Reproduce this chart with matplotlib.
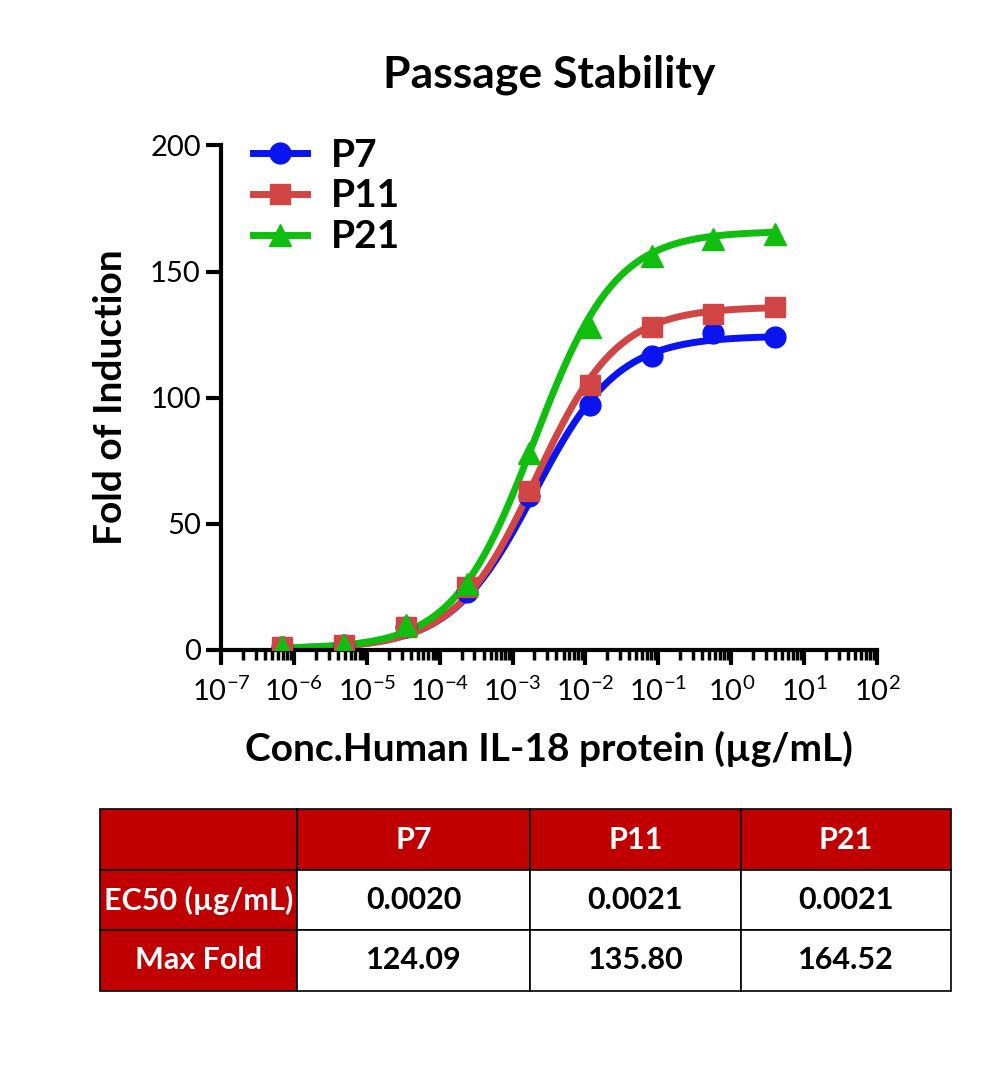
import numpy as np
import matplotlib
matplotlib.use('Agg')
import matplotlib.pyplot as plt
from matplotlib.ticker import LogLocator, NullFormatter

plt.rcParams['font.family'] = ['Lato', 'DejaVu Sans']

# concentrations (ug/mL), 7-fold dilution
conc = [6.94e-7, 4.86e-6, 3.4e-5, 2.38e-4, 1.666e-3, 1.166e-2, 8.16e-2, 0.571, 4.0]

p7 = [1, 2, 9, 23, 61, 97, 116.5, 125.5, 124]
p11 = [1, 2, 9, 25, 63, 105, 128, 133, 136]
p21 = [1, 2, 10, 26, 78, 128, 156, 163, 165]

# 4PL fit parameters (bottom, top, ec50, hill)
fit_p7 = (0.5, 124.5, 0.0020, 0.76)
fit_p11 = (0.5, 136.0, 0.0021, 0.78)
fit_p21 = (0.5, 166.0, 0.0020, 0.78)

series = ['P7', 'P11', 'P21']
colors = ['#0a14f0', '#d24545', '#10be10']
markers = ['o', 's', '^']

table_cols = ['', 'P7', 'P11', 'P21']
ec50_row = ['EC50 (\u00b5g/mL)', '0.0020', '0.0021', '0.0021']
maxfold_row = ['Max Fold', '124.09', '135.80', '164.52']


def four_pl(x, b, t, ec, h):
    return b + (t - b) / (1 + (ec / x) ** h)


fig = plt.figure(figsize=(10, 10.85), dpi=100)
ax = fig.add_axes([0.221, 0.401, 0.656, 0.465])

xs = np.logspace(np.log10(conc[0]), np.log10(conc[-1]), 300)
for name, ys, fp, c, m in zip(series, [p7, p11, p21], [fit_p7, fit_p11, fit_p21], colors, markers):
    ms = 16 if m == '^' else 15
    ax.plot(xs, four_pl(xs, *fp), color=c, lw=5, zorder=2)
    ax.plot(conc, ys, linestyle='none', marker=m, color=c, markersize=ms, zorder=3)
    ax.plot([], [], color=c, lw=5, marker=m, markersize=ms, label=name)

ax.set_xscale('log')
ax.set_xlim(1e-7, 1e2)
ax.set_ylim(0, 200)
ax.set_yticks([0, 50, 100, 150, 200])
ax.xaxis.set_major_locator(LogLocator(base=10, numticks=20))
ax.xaxis.set_minor_locator(LogLocator(base=10, subs=np.arange(2, 10), numticks=20))
ax.xaxis.set_minor_formatter(NullFormatter())

for s in ['top', 'right']:
    ax.spines[s].set_visible(False)
for s in ['left', 'bottom']:
    ax.spines[s].set_linewidth(3)
ax.tick_params(axis='both', which='major', width=3, length=11, labelsize=21, direction='out')
ax.tick_params(axis='x', which='minor', width=2.5, length=7, direction='out')
ax.tick_params(axis='x', pad=8)

ax.set_title('Passage Stability', fontsize=32, fontweight='bold', pad=42)
ax.set_ylabel('Fold of Induction', fontsize=28, fontweight='bold', labelpad=16)
ax.set_xlabel('Conc.Human IL-18 protein (\u00b5g/mL)', fontsize=28, fontweight='bold', labelpad=18)

leg = ax.legend(loc='upper left', bbox_to_anchor=(-0.005, 1.085), frameon=False,
                prop={'size': 28, 'weight': 'bold'}, handlelength=1.4,
                handletextpad=0.6, labelspacing=0.15)

# summary table
tax = fig.add_axes([0.1, 0.087, 0.851, 0.167])
tax.axis('off')
cells = [table_cols, ec50_row, maxfold_row]
tbl = tax.table(cellText=cells, bbox=[0, 0, 1, 1], cellLoc='center',
                colWidths=[197, 233, 211, 210])
tbl.auto_set_font_size(False)
for (r, c), cell in tbl.get_celld().items():
    cell.set_edgecolor('black')
    cell.set_linewidth(1.2)
    txt = cell.get_text()
    txt.set_fontsize(22)
    txt.set_fontweight('bold')
    if r == 0 or c == 0:
        cell.set_facecolor('#c00000')
        txt.set_color('white')
    else:
        cell.set_facecolor('white')
        txt.set_color('black')

fig.savefig('out.png', dpi=100)
